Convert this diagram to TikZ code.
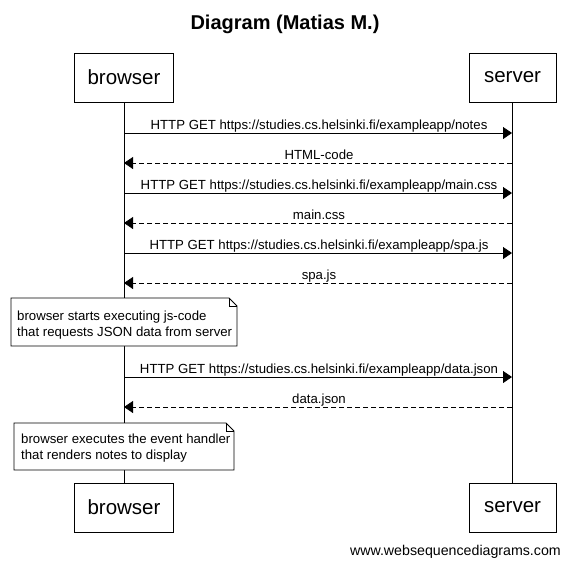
\documentclass[tikz,border=0pt]{standalone}
\usepackage{fontspec}
\setmainfont{Liberation Sans}
\usetikzlibrary{arrows.meta}
\begin{document}
\begin{tikzpicture}[x=1pt,y=-1pt,
  actor/.style={draw,line width=0.8pt,fill=white,minimum height=49pt,font=\fontsize{20.5}{24}\selectfont,inner sep=0pt},
  msg/.style={line width=0.8pt,-{Triangle[length=9pt,width=12pt]}},
  reply/.style={msg,dash pattern=on 5pt off 3pt},
  lbl/.style={font=\fontsize{13.2}{16}\selectfont,inner sep=0pt,anchor=base},
  notetext/.style={font=\fontsize{13.2}{16}\selectfont,inner sep=0pt,anchor=base west},
  notebox/.style={draw,line width=0.8pt,fill=white},
  life/.style={line width=0.8pt}]
\useasboundingbox (0,0) rectangle (570,566);
\node[font=\bfseries\fontsize{20}{24}\selectfont,anchor=base] (title) at (285,29) {Diagram (Matias M.)};
\node[actor,minimum width=99pt] (bt) at (124,77.5) {\raisebox{-1pt}{browser}};
\node[actor,minimum width=87pt] (st) at (512.5,77.5) {\raisebox{-1pt}{server}};
\node[actor,minimum width=99pt] (bb) at (124,507.5) {\raisebox{-1pt}{browser}};
\node[actor,minimum width=87pt] (sb) at (512.5,507.5) {\raisebox{-1pt}{server}};
\draw[life] (124,102) coordinate (btl) -- (124,483) coordinate (bbl);
\draw[life] (512,102) coordinate (stl) -- (512,483) coordinate (sbl);
% messages
\foreach \y/\t/\k in {133/{HTTP GET https://studies.cs.helsinki.fi/exampleapp/notes}/m1,
                      193/{HTTP GET https://studies.cs.helsinki.fi/exampleapp/main.css}/m3,
                      253/{HTTP GET https://studies.cs.helsinki.fi/exampleapp/spa.js}/m5,
                      377/{HTTP GET https://studies.cs.helsinki.fi/exampleapp/data.json}/m7}{
  \coordinate (\k a) at (124,\y); \coordinate (\k b) at (512,\y);
  \draw[msg] (\k a) -- (\k b);
  \node[lbl] (\k l) at (319,\y-3.5) {\t};
}
\foreach \y/\t/\k in {163/{HTML-code}/m2, 223/{main.css}/m4, 283/{spa.js}/m6, 407/{data.json}/m8}{
  \coordinate (\k a) at (512,\y); \coordinate (\k b) at (124,\y);
  \draw[reply] (\k a) -- (\k b);
  \node[lbl] (\k l) at (319,\y-3.5) {\t};
}
% notes
\draw[notebox] (11,298) -- (229,298) -- (237,306) -- (237,346) -- (11,346) -- cycle;
\draw[line width=0.8pt] (229,298) -- (229,306) -- (237,306);
\node[notetext] (n1a) at (17,320) {browser starts executing js-code};
\node[notetext] (n1b) at (17,336) {that requests JSON data from server};
\draw[notebox] (14,423) -- (226,423) -- (234,431) -- (234,470) -- (14,470) -- cycle;
\draw[line width=0.8pt] (226,423) -- (226,431) -- (234,431);
\node[notetext] (n2a) at (21,443) {browser executes the event handler};
\node[notetext] (n2b) at (21,459) {that renders notes to display};
\node[font=\fontsize{14.2}{16}\selectfont,anchor=base east,inner sep=0pt] (foot) at (561,555) {www.websequencediagrams.com};
\end{tikzpicture}
\end{document}
